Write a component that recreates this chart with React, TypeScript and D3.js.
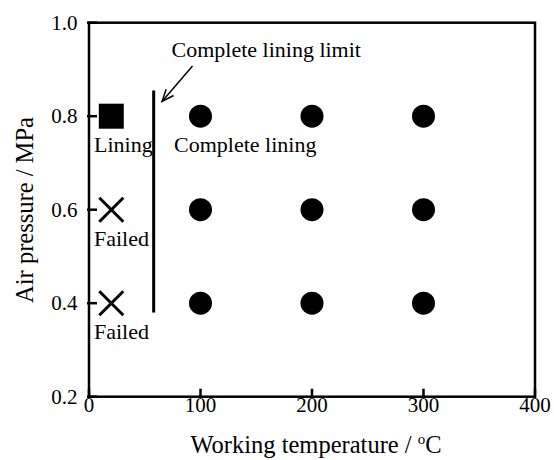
import React from "react";
import * as d3 from "d3";

const xTicks = [0, 100, 200, 300, 400];
const yTicks = [0.2, 0.4, 0.6, 0.8, 1.0];

const completeX = [100, 200, 300, 100, 200, 300, 100, 200, 300];
const completeY = [0.8, 0.8, 0.8, 0.6, 0.6, 0.6, 0.4, 0.4, 0.4];

const liningX = [20];
const liningY = [0.8];

const failedX = [20, 20];
const failedY = [0.6, 0.4];

const limitX = 58;
const limitY = [0.38, 0.855];

const FONT = "'Liberation Serif', 'Times New Roman', serif";

export default function App() {
  const W = 554;
  const H = 460;
  const x = d3.scaleLinear().domain([0, 400]).range([89, 535]);
  const y = d3.scaleLinear().domain([0.2, 1.0]).range([396.7, 22.7]);
  const [x0, x1] = x.range();
  const [y0, y1] = y.range();

  // arrow
  const ax0 = 192.5, ay0 = 66, ax1 = 162, ay1 = 101.5;
  const ang = Math.atan2(ay0 - ay1, ax0 - ax1);
  const headLen = 13;
  const spread = 0.38;
  const arm = (s: number) => [ax1 + headLen * Math.cos(ang + s), ay1 + headLen * Math.sin(ang + s)];
  const [h1x, h1y] = arm(spread);
  const [h2x, h2y] = arm(-spread);

  return (
    <svg width={W} height={H} style={{ position: "absolute", left: 0, top: 0, background: "#fff" }} fontFamily={FONT}>
      <rect x={0} y={0} width={W} height={H} fill="#fff" />
      {/* frame */}
      <rect x={x0} y={y1} width={x1 - x0} height={y0 - y1} fill="none" stroke="#000" strokeWidth={2.5} />
      {/* x ticks */}
      {xTicks.map((t) => (
        <g key={"xt" + t}>
          <line x1={x(t)} x2={x(t)} y1={y0} y2={y0 - 8} stroke="#000" strokeWidth={2.5} />
          <text x={x(t)} y={412} fontSize={21} textAnchor="middle" fill="#000">{t}</text>
        </g>
      ))}
      {/* y ticks */}
      {yTicks.map((t) => (
        <g key={"yt" + t}>
          <line x1={x0 - 2} x2={x0 + 8} y1={y(t)} y2={y(t)} stroke="#000" strokeWidth={2.5} />
          <text x={77.5} y={y(t) + 7} fontSize={21} textAnchor="end" fill="#000">{t.toFixed(1)}</text>
        </g>
      ))}
      {/* axis titles */}
      <text x={(x0 + x1) / 2 + 4} y={453} fontSize={24.5} textAnchor="middle" fill="#000">
        Working temperature / <tspan dy={-9} fontSize={15}>o</tspan><tspan dy={9}>C</tspan>
      </text>
      <text transform={`translate(33, 210) rotate(-90)`} fontSize={24.5} textAnchor="middle" fill="#000">
        Air pressure / MPa
      </text>
      {/* complete lining points */}
      {completeX.map((cx, i) => (
        <circle key={"c" + i} cx={x(cx)} cy={y(completeY[i])} r={11.5} fill="#000" />
      ))}
      {/* lining */}
      {liningX.map((lx, i) => (
        <rect key={"l" + i} x={x(lx) - 12.5} y={y(liningY[i]) - 12.5} width={25} height={25} fill="#000" />
      ))}
      {/* failed */}
      {failedX.map((fx, i) => {
        const cx = x(fx), cy = y(failedY[i]);
        const s = 12;
        return (
          <g key={"f" + i} stroke="#000" strokeWidth={3}>
            <line x1={cx - s} y1={cy - s} x2={cx + s} y2={cy + s} />
            <line x1={cx - s} y1={cy + s} x2={cx + s} y2={cy - s} />
          </g>
        );
      })}
      {/* labels */}
      <text x={94} y={y(0.8) + 36} fontSize={22} fill="#000">Lining</text>
      <text x={94} y={y(0.6) + 36} fontSize={22} fill="#000">Failed</text>
      <text x={94} y={y(0.4) + 36} fontSize={22} fill="#000">Failed</text>
      <text x={174} y={y(0.8) + 36} fontSize={22} fill="#000">Complete lining</text>
      {/* limit line */}
      <line x1={x(limitX)} x2={x(limitX)} y1={y(limitY[0])} y2={y(limitY[1])} stroke="#000" strokeWidth={3} />
      {/* annotation */}
      <text x={171.5} y={57} fontSize={22} fill="#000">Complete lining limit</text>
      <line x1={ax0} y1={ay0} x2={ax1} y2={ay1} stroke="#000" strokeWidth={1.5} />
      <polyline points={`${h1x},${h1y} ${ax1},${ay1} ${h2x},${h2y}`} fill="none" stroke="#000" strokeWidth={1.5} />
    </svg>
  );
}
